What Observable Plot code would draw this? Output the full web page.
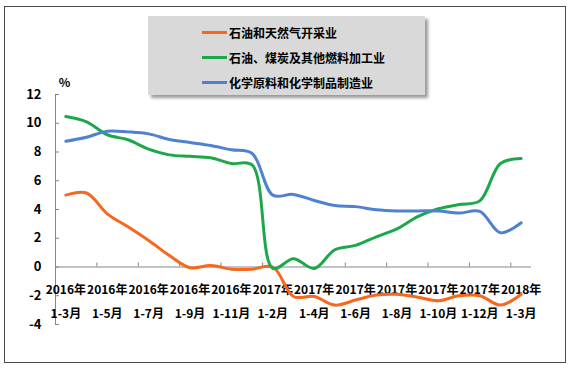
<!DOCTYPE html>
<html><head><meta charset="utf-8">
<script src="https://cdn.jsdelivr.net/npm/d3@7"></script>
<script src="https://cdn.jsdelivr.net/npm/@observablehq/plot@0.6"></script>
<style>
body{margin:0;background:#fff;}
#wrap{position:relative;width:571px;height:369px;font-family:"Noto Sans CJK SC",sans-serif;overflow:hidden;}
#chart{position:absolute;left:0;top:0;}
#border{position:absolute;left:4px;top:6px;width:562px;height:357px;border:1px solid #4a4a4a;box-sizing:border-box;}
#legend{position:absolute;left:148px;top:16px;width:277px;height:79px;background:#d9d9d9;box-shadow:3px 3px 3px rgba(0,0,0,0.4);}
.row{position:absolute;left:54px;height:16px;display:flex;align-items:center;font-weight:bold;font-size:12px;color:#000;white-space:nowrap;}
.sw{width:25px;height:3px;margin-right:2px;}
</style></head>
<body>
<div id="wrap">
  <div id="chart"></div>
  <div id="border"></div>
  <div id="legend"></div>
</div>
<script>
const years = ["2016年","2016年","2016年","2016年","2016年","2016年","2016年","2016年","2016年","2016年",
  "2017年","2017年","2017年","2017年","2017年","2017年","2017年","2017年","2017年","2017年","2017年",
  "2018年","2018年"];
const months = ["1-3月","1-4月","1-5月","1-6月","1-7月","1-8月","1-9月","1-10月","1-11月","1-12月",
  "1-2月","1-3月","1-4月","1-5月","1-6月","1-7月","1-8月","1-9月","1-10月","1-11月","1-12月",
  "1-2月","1-3月"];
const seriesNames = ["石油和天然气开采业","石油、煤炭及其他燃料加工业","化学原料和化学制品制造业"];
const seriesColors = ["#f7671e","#1ca84a","#4f81d0"];
const oilGas = [5.0,5.15,3.7,2.8,1.85,0.8,-0.05,0.1,-0.15,-0.15,0.0,-2.05,-2.05,-2.65,-2.3,-1.95,-1.9,-2.1,-2.35,-2.0,-2.0,-2.65,-1.9];
const refining = [10.47,10.1,9.2,8.85,8.2,7.8,7.7,7.6,7.2,7.1,-0.1,0.58,-0.1,1.2,1.5,2.1,2.65,3.5,4.05,4.35,4.6,7.2,7.55];
const chemical = [8.75,9.03,9.45,9.4,9.26,8.87,8.66,8.45,8.15,7.9,5.0,5.05,4.63,4.28,4.2,3.98,3.9,3.9,3.9,3.75,3.87,2.38,3.08];
const yTicks = [-4,-2,0,2,4,6,8,10,12];

const allSeries = [oilGas, refining, chemical];
const rows = allSeries.flatMap((vals, s) => vals.map((v, i) => ({i, v, s: seriesNames[s]})));
const labelIdx = d3.range(0, years.length, 2);
const tickIdx = d3.range(2, years.length, 2);
const font = "Noto Sans CJK SC";

const plot = Plot.plot({
  width: 571, height: 369,
  marginLeft: 55, marginRight: 40, marginTop: 94, marginBottom: 45,
  style: {fontFamily: font, background: "transparent"},
  x: {type: "linear", domain: [0, years.length], axis: null},
  y: {domain: [-4, 12], axis: null},
  color: {domain: seriesNames, range: seriesColors},
  marks: [
    Plot.ruleY([0], {x1: 0, x2: years.length, stroke: "#868686", strokeWidth: 1}),
    Plot.ruleX([0], {y1: -4, y2: 12, stroke: "#868686", strokeWidth: 1}),
    Plot.ruleY(yTicks, {y: d => d, x1: 0, x2: 0, insetRight: -4, stroke: "#868686"}),
    Plot.ruleX(tickIdx, {x: d => d, y1: 0, y2: 0, insetTop: -4, stroke: "#868686"}),
    Plot.text(yTicks, {x: 0, y: d => d, text: d => String(d), textAnchor: "end", dx: -14, fontWeight: "bold", fontSize: 13, fill: "#000"}),
    Plot.text(["%"], {x: 0, y: 12, text: d => d, dx: 9, dy: -11, fontWeight: "bold", fontSize: 12, fill: "#000"}),
    Plot.text(labelIdx, {x: d => d + 0.5, y: 0, text: d => years[d], dy: 23, fontWeight: "bold", fontSize: 12, fill: "#000"}),
    Plot.text(labelIdx, {x: d => d + 0.5, y: 0, text: d => months[d], dy: 47, fontWeight: "bold", fontSize: 12, fill: "#000"}),
    Plot.line(rows, {x: d => d.i + 0.5, y: "v", z: "s", stroke: "s", strokeWidth: 3, curve: "catmull-rom"})
  ]
});
document.getElementById("chart").appendChild(plot);

const legend = document.getElementById("legend");
seriesNames.forEach((name, k) => {
  const r = document.createElement("div");
  r.className = "row";
  r.style.top = (8 + 25 * k) + "px";
  const sw = document.createElement("span");
  sw.className = "sw";
  sw.style.background = seriesColors[k];
  const t = document.createElement("span");
  t.textContent = name;
  r.appendChild(sw); r.appendChild(t);
  legend.appendChild(r);
});
</script>
</body></html>
